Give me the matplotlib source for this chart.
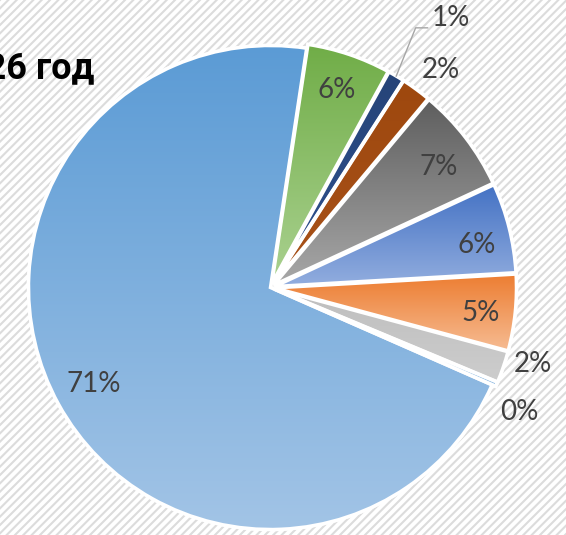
import numpy as np
import matplotlib
matplotlib.use("Agg")
import matplotlib.pyplot as plt
from matplotlib.patches import Rectangle, Wedge
from matplotlib.colors import to_rgb

# ---- data ----
title = "2026 год"
values = [70.8, 5.6, 1.1, 2.0, 7.0, 6.0, 5.1, 2.1, 0.3]
labels = [f"{round(v)}%" for v in values]

# ---- style ----
top_colors = ['#5B9BD5', '#70AD47', '#264478', '#9E480E', '#5E5E5E',
              '#4472C4', '#ED7D31', '#BEBEBE', '#5B9BD5']
bottom_colors = ['#A2C4E6', '#AAD190', '#2E5190', '#A8521A', '#A8A8A8',
                 '#93AEDF', '#F6BC93', '#CDCDCD', '#9DC3E6']
explode = [0, 4, 4, 4, 4, 4, 4, 4, 4]
label_r = [0.83, 0.86, 1.34, 1.14, 0.855, 0.87, 0.875, 1.13, 1.15]
label_dang = [-0.2, 0, -3.0, -1.7, -1.7, -2.3, -0.9, 2.6, -3.5]

W, H = 566, 535
plt.rcParams['hatch.linewidth'] = 1.5
fig = plt.figure(figsize=(W / 100, H / 100), dpi=100, facecolor='white')
ax = fig.add_axes([0, 0, 1, 1])

bg = Rectangle((0, 0), W, H, facecolor='white', edgecolor='#DCDCDC',
               hatch='////', lw=0, zorder=0)
ax.add_patch(bg)

cx, cy, R = 270.5, H - 287.5, 242
wedges, _ = ax.pie(values, center=(cx, cy), radius=R, startangle=-23.72,
                   counterclock=False, explode=explode, colors=top_colors,
                   wedgeprops=dict(edgecolor='white', linewidth=2.5))

for w, ct, cb in zip(wedges, top_colors, bottom_colors):
    w.set_zorder(1)
    ext = w.get_path().get_extents()
    n = 256
    t = np.linspace(0, 1, n)[:, None]
    c0 = np.array(to_rgb(cb)); c1 = np.array(to_rgb(ct))
    grad = (c0[None, :] * (1 - t) + c1[None, :] * t)[:, None, :]
    im = ax.imshow(grad, extent=(ext.x0, ext.x1, ext.y0, ext.y1), origin='lower',
                   aspect='auto', zorder=2, interpolation='bilinear')
    im.set_clip_path(w)
    ov = Wedge(w.center, w.r, w.theta1, w.theta2, facecolor='none',
               edgecolor='white', linewidth=2.5, zorder=3)
    ax.add_patch(ov)

lab_font = ['Lato', 'DejaVu Sans']
for i, (w, lab) in enumerate(zip(wedges, labels)):
    tm = np.deg2rad((w.theta1 + w.theta2) / 2 + label_dang[i])
    lx = cx + label_r[i] * R * np.cos(tm)
    ly = cy + label_r[i] * R * np.sin(tm)
    ax.text(lx, ly, lab, ha='center', va='center', fontsize=20,
            color='#404040', family=lab_font, zorder=5)
    if i == 2:
        tmid = np.deg2rad((w.theta1 + w.theta2) / 2)
        sx = w.center[0] + w.r * np.cos(tmid)
        sy = w.center[1] + w.r * np.sin(tmid)
        ax.plot([sx, lx - 35, lx - 23], [sy, ly - 10, ly - 10],
                color='#A6A6A6', lw=1.0, zorder=4)

ax.text(94, H - 78, title, ha='right', va='baseline', fontsize=26,
        fontweight='bold', color='black',
        family=['Roboto', 'DejaVu Sans'], zorder=5)

ax.set_xlim(0, W)
ax.set_ylim(0, H)
ax.set_aspect('equal')
ax.axis('off')
fig.savefig('out.png', dpi=100, facecolor='white')
